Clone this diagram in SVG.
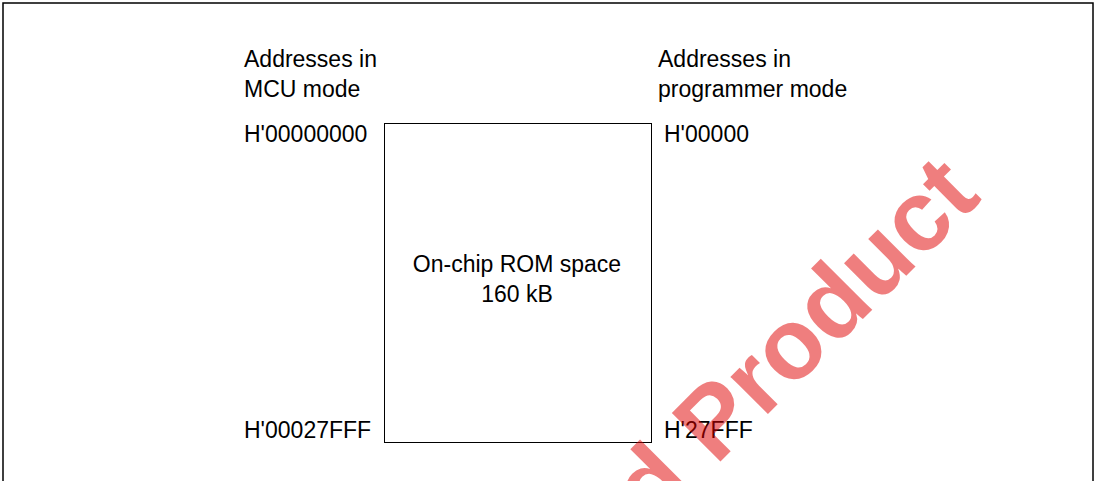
<svg xmlns="http://www.w3.org/2000/svg" width="1100" height="481" viewBox="0 0 1100 481">
<style>
.t{font-family:"Liberation Sans",Arial,sans-serif;font-size:23px;fill:#000}
.c{text-anchor:middle}
.wm{font-family:"Liberation Sans",Arial,sans-serif;font-size:100px;font-weight:bold;fill:#e00000;opacity:0.5}
</style>
<rect x="0" y="0" width="1100" height="481" fill="#fff"/>
<rect id="frame" x="3" y="3" width="1090" height="520" fill="none" stroke="#000" stroke-width="1.5"/>
<g id="labels-mcu">
<text class="t" x="244" y="67">Addresses in</text>
<text class="t" x="244" y="97">MCU mode</text>
<text class="t" x="244" y="142">H'00000000</text>
<text class="t" x="244" y="438">H'00027FFF</text>
</g>
<g id="labels-prog">
<text class="t" x="658" y="67">Addresses in</text>
<text class="t" x="658" y="97">programmer mode</text>
<text class="t" x="664" y="142">H'00000</text>
<text class="t" x="664" y="438">H'27FFF</text>
</g>
<g id="rom">
<rect x="384.5" y="123.5" width="267" height="319" fill="none" stroke="#000" stroke-width="1"/>
<text class="t c" x="517" y="272">On-chip ROM space</text>
<text class="t c" x="517" y="302">160 kB</text>
</g>
<g id="connectors"></g>
<text class="wm" text-anchor="end" transform="translate(983,199) rotate(-45)">d Product</text>
</svg>
